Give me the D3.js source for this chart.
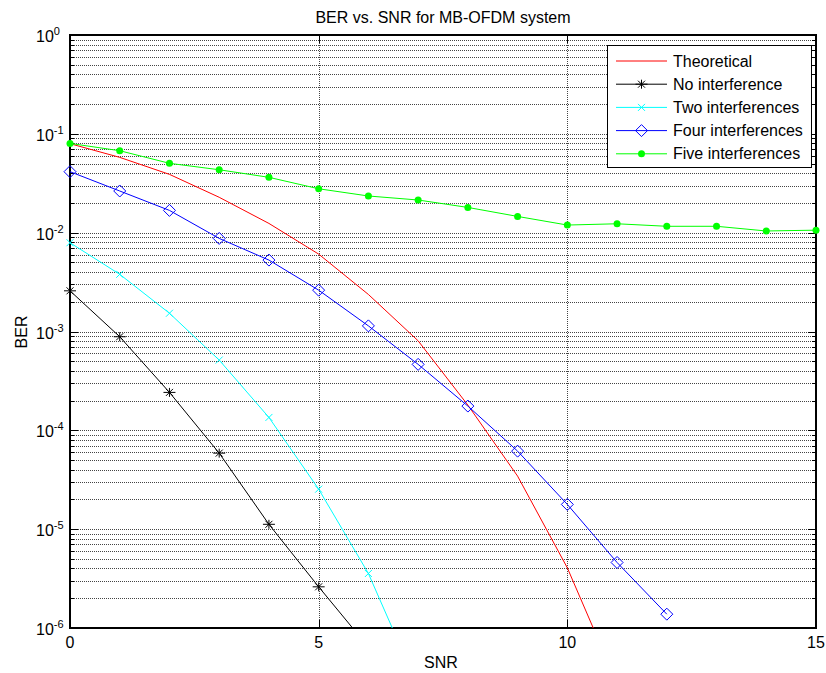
<!DOCTYPE html>
<html>
<head>
<meta charset="utf-8">
<script src="https://cdn.jsdelivr.net/npm/d3@7"></script>
<style>
  html, body { margin: 0; padding: 0; background: #fff; }
  svg { display: block; font-family: "Liberation Sans", Arial, sans-serif; }
</style>
</head>
<body>
<svg id="chart" width="826" height="673"></svg>
<script>
// ---- data ----
const snr = [0,1,2,3,4,5,6,7,8,9,10,11,12,13,14,15];
const theoretical = [0.0795, 0.0578, 0.0389, 0.0228, 0.0124, 0.00607, 0.00237, 8.05e-4, 1.80e-4, 3.44e-5, 4.06e-6, 2.76e-7];
const noInterference = [0.00258, 8.85e-4, 2.42e-4, 5.88e-5, 1.12e-5, 2.61e-6, 6.4e-7];
const twoInterferences = [0.00791, 0.00379, 0.00153, 5.14e-4, 1.35e-4, 2.54e-5, 3.56e-6, 2.53e-7];
const fourInterferences = [0.0414, 0.0264, 0.0168, 0.00875, 0.00528, 0.00262, 0.00114, 4.65e-4, 1.76e-4, 6.16e-5, 1.78e-5, 4.60e-6, 1.38e-6];
const fiveInterferences = [0.080, 0.0675, 0.0503, 0.0433, 0.0363, 0.0278, 0.0235, 0.0214, 0.0180, 0.0146, 0.01194, 0.0123, 0.0116, 0.0116, 0.0104, 0.0106];
const xTicks = [0, 5, 10, 15];
const yExponents = [0, -1, -2, -3, -4, -5, -6];
const seriesNames = ["Theoretical", "No interference", "Two interferences", "Four interferences", "Five interferences"];
const chartTitle = "BER vs. SNR for MB-OFDM system";
const xLabel = "SNR";
const yLabel = "BER";

// ---- layout ----
const svg = d3.select("#chart");
const L = 70, R = 816, T = 35, B = 628;
const x = d3.scaleLinear().domain([0, 15]).range([L, R]);
const y = d3.scaleLog().domain([1e-6, 1]).range([B, T]);

svg.append("defs").append("clipPath").attr("id", "clip")
  .append("rect").attr("x", L).attr("y", T).attr("width", R - L).attr("height", B - T);

// grid
const grid = svg.append("g").attr("shape-rendering", "crispEdges");
const minorVals = [];
for (let e = -6; e < 0; e++) for (let m = 1; m <= 9; m++) minorVals.push(m * Math.pow(10, e));
minorVals.push(1);
minorVals.forEach(v => {
  const yy = Math.round(y(v)) + 0.5;
  if (yy <= T + 1 || yy >= B - 1) return;
  grid.append("line").attr("x1", L).attr("x2", R).attr("y1", yy).attr("y2", yy)
    .attr("stroke", "#444").attr("stroke-width", 1).attr("stroke-dasharray", "1,1");
});
xTicks.forEach(t => {
  if (t === 0 || t === 15) return;
  const xx = Math.round(x(t)) + 0.5;
  grid.append("line").attr("x1", xx).attr("x2", xx).attr("y1", T).attr("y2", B)
    .attr("stroke", "#444").attr("stroke-width", 1).attr("stroke-dasharray", "1,1");
});

// ticks (inward, on all sides)
const ticks = svg.append("g").attr("stroke", "#000").attr("stroke-width", 1).attr("shape-rendering", "crispEdges");
minorVals.forEach(v => {
  const isMajor = Math.abs(Math.log10(v) - Math.round(Math.log10(v))) < 1e-9;
  const len = isMajor ? 8 : 4;
  const yy = Math.round(y(v)) + 0.5;
  ticks.append("line").attr("x1", L).attr("x2", L + len).attr("y1", yy).attr("y2", yy);
  ticks.append("line").attr("x1", R).attr("x2", R - len).attr("y1", yy).attr("y2", yy);
});
xTicks.forEach(t => {
  const xx = Math.round(x(t)) + 0.5;
  ticks.append("line").attr("x1", xx).attr("x2", xx).attr("y1", B).attr("y2", B - 8);
  ticks.append("line").attr("x1", xx).attr("x2", xx).attr("y1", T).attr("y2", T + 8);
});

// axes box
svg.append("rect").attr("x", L).attr("y", T).attr("width", R - L).attr("height", B - T)
  .attr("fill", "none").attr("stroke", "#000").attr("stroke-width", 2);

// tick labels
xTicks.forEach(t => {
  svg.append("text").attr("x", x(t)).attr("y", 648).attr("text-anchor", "middle")
    .attr("font-size", 16).attr("fill", "#000").text(t);
});
yExponents.forEach(e => {
  const yy = y(Math.pow(10, e));
  const tx = svg.append("text").attr("x", 36).attr("y", yy + 7).attr("font-size", 16).attr("fill", "#000");
  tx.append("tspan").text("10");
  tx.append("tspan").attr("dy", -7).attr("font-size", 11).text(e === 0 ? "0" : ("-" + Math.abs(e)));
});

// labels
svg.append("text").attr("x", (L + R) / 2).attr("y", 23).attr("text-anchor", "middle")
  .attr("font-size", 16).attr("fill", "#000").text(chartTitle);
svg.append("text").attr("x", (L + R) / 2 - 2).attr("y", 668).attr("text-anchor", "middle")
  .attr("font-size", 16).attr("fill", "#000").text(xLabel);
svg.append("text").attr("transform", "translate(27,332) rotate(-90)").attr("text-anchor", "middle")
  .attr("font-size", 16).attr("fill", "#000").text(yLabel);

// series
const series = [
  { name: seriesNames[0], vals: theoretical, color: "#ff0000", marker: "none" },
  { name: seriesNames[1], vals: noInterference, color: "#000000", marker: "star" },
  { name: seriesNames[2], vals: twoInterferences, color: "#00ffff", marker: "x" },
  { name: seriesNames[3], vals: fourInterferences, color: "#0000ff", marker: "diamond" },
  { name: seriesNames[4], vals: fiveInterferences, color: "#00ff00", marker: "dot" }
];

const line = d3.line().x((d, i) => x(snr[i])).y(d => y(d));
const plot = svg.append("g").attr("clip-path", "url(#clip)");

function drawMarker(g, type, cx, cy, color) {
  if (type === "star") {
    g.append("path").attr("d", `M${cx - 6},${cy}H${cx + 6}M${cx},${cy - 4.5}V${cy + 4.5}M${cx - 3.5},${cy - 3.5}L${cx + 3.5},${cy + 3.5}M${cx - 3.5},${cy + 3.5}L${cx + 3.5},${cy - 3.5}`)
      .attr("stroke", color).attr("stroke-width", 1).attr("fill", "none");
  } else if (type === "x") {
    const s = 3.5;
    g.append("path").attr("d", `M${cx - s},${cy - s}L${cx + s},${cy + s}M${cx - s},${cy + s}L${cx + s},${cy - s}`)
      .attr("stroke", color).attr("stroke-width", 1).attr("fill", "none");
  } else if (type === "diamond") {
    const s = 6;
    g.append("path").attr("d", `M${cx},${cy - s}L${cx + s},${cy}L${cx},${cy + s}L${cx - s},${cy}Z`)
      .attr("stroke", color).attr("stroke-width", 1).attr("fill", "none");
  } else if (type === "dot") {
    g.append("circle").attr("cx", cx).attr("cy", cy).attr("r", 3.5).attr("fill", color);
  }
}

series.forEach(s => {
  plot.append("path").datum(s.vals).attr("d", line)
    .attr("fill", "none").attr("stroke", s.color).attr("stroke-width", 1);
});
const markG = svg.append("g");
series.forEach(s => {
  if (s.marker === "none") return;
  s.vals.forEach((v, i) => {
    if (v < 1e-6) return;
    drawMarker(markG, s.marker, x(snr[i]), y(v), s.color);
  });
});

// legend
const lg = svg.append("g");
lg.append("rect").attr("x", 607.5).attr("y", 45.5).attr("width", 204).attr("height", 122)
  .attr("fill", "#fff").attr("stroke", "#000").attr("stroke-width", 1);
series.forEach((s, i) => {
  const ly = 61 + i * 23.2;
  lg.append("line").attr("x1", 616).attr("x2", 667).attr("y1", ly).attr("y2", ly)
    .attr("stroke", s.color).attr("stroke-width", 1);
  drawMarker(lg, s.marker, 641.5, ly, s.color);
  lg.append("text").attr("x", 673).attr("y", ly + 5.5).attr("font-size", 16).attr("fill", "#000").text(s.name);
});
</script>
</body>
</html>
